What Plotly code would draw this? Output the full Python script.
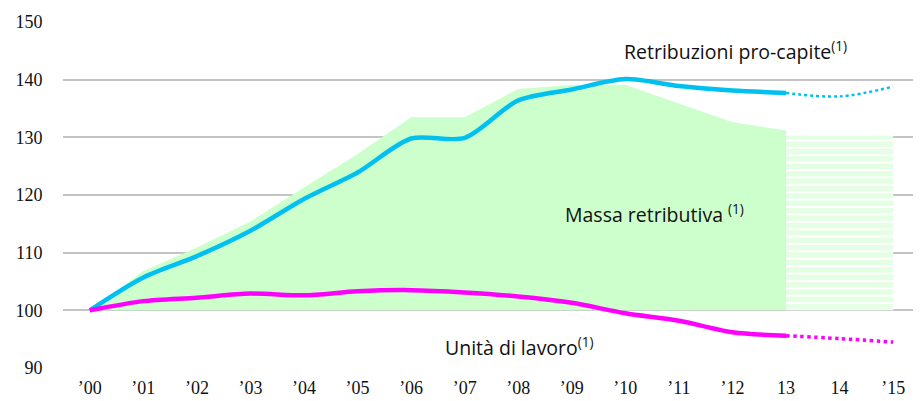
import plotly.graph_objects as go

years = ["’00", "’01", "’02", "’03", "’04", "’05", "’06", "’07",
         "’08", "’09", "’10", "’11", "’12", "13", "14", "’15"]

# index values (2000 = 100)
massa = [100, 106.8, 110.9, 115.4, 121.3, 127.1, 133.5, 133.5,
         138.4, 139.1, 139.1, 135.8, 132.6, 131.2]
massa_prev = [130.3, 130.3, 130.3]

retrib = [100, 105.7, 109.4, 113.8, 119.3, 123.9, 129.8, 129.9,
          136.4, 138.3, 140.1, 138.9, 138.1, 137.7]
retrib_prev = [137.7, 137.1, 138.8]

unita = [100, 101.6, 102.2, 102.9, 102.6, 103.3, 103.5, 103.1,
         102.4, 101.3, 99.5, 98.2, 96.2, 95.6]
unita_prev = [95.6, 95.1, 94.5]

BASE = 100
GREEN = "#CCFFCC"
BLUE = "#00C0F0"
MAGENTA = "#FF00FF"

x_hist = list(range(len(massa)))
x_prev = list(range(len(massa) - 1, len(years)))

fig = go.Figure()

# massa retributiva (area above the 100 base)
fig.add_trace(go.Scatter(x=x_hist, y=[BASE] * len(x_hist), mode="lines",
                         line=dict(width=0), hoverinfo="skip"))
fig.add_trace(go.Scatter(x=x_hist, y=massa, mode="lines", fill="tonexty",
                         fillcolor=GREEN, line=dict(width=0)))
fig.add_trace(go.Scatter(x=x_prev, y=[BASE] * len(x_prev), mode="lines",
                         line=dict(width=0), hoverinfo="skip"))
fig.add_trace(go.Scatter(x=x_prev, y=massa_prev, mode="lines", fill="tonexty",
                         fillcolor="white", line=dict(width=0),
                         fillpattern=dict(shape="-", fgcolor=GREEN, bgcolor="white",
                                          size=7.4, solidity=0.75)))

# retribuzioni pro-capite
fig.add_trace(go.Scatter(x=x_hist, y=retrib, mode="lines",
                         line=dict(color=BLUE, width=4.5, shape="spline", smoothing=0.8)))
fig.add_trace(go.Scatter(x=x_prev, y=retrib_prev, mode="lines",
                         line=dict(color=BLUE, width=2.5, dash="dot", shape="spline")))

# unita di lavoro
fig.add_trace(go.Scatter(x=x_hist, y=unita, mode="lines",
                         line=dict(color=MAGENTA, width=4.5, shape="spline", smoothing=0.8)))
fig.add_trace(go.Scatter(x=x_prev, y=unita_prev, mode="lines",
                         line=dict(color=MAGENTA, width=3.5, dash="dot", shape="spline")))

label_font = dict(family="Open Sans", size=19.5, color="#111111")
fig.add_annotation(x=12.05, y=145.1, text="Retribuzioni pro-capite<sup>(1)</sup>",
                   showarrow=False, font=label_font)
fig.add_annotation(x=10.55, y=116.8, text="Massa retributiva <sup>(1)</sup>",
                   showarrow=False, font=label_font)
fig.add_annotation(x=8.03, y=93.65, text="Unità di lavoro<sup>(1)</sup>",
                   showarrow=False, font=label_font)

# the page body has an 8px margin, so the figure is sized to fit around it
tick_font = dict(family="Liberation Serif", size=18, color="#111111")
fig.update_layout(
    width=913, height=393,
    margin=dict(l=55, r=0, t=14, b=33),
    paper_bgcolor="white", plot_bgcolor="white",
    showlegend=False,
    xaxis=dict(range=[-0.5, 15.52], tickmode="array",
               tickvals=list(range(len(years))), ticktext=years,
               showgrid=False, zeroline=False, showline=False,
               ticks="outside", ticklen=3, tickcolor="rgba(0,0,0,0)",
               tickfont=tick_font, automargin=False),
    yaxis=dict(range=[90, 150], dtick=10, showgrid=True,
               gridcolor="#C4C4C4", gridwidth=1.5, zeroline=False,
               ticks="outside", ticklen=16, tickcolor="rgba(0,0,0,0)",
               tickfont=tick_font, automargin=False),
)

fig.write_html("out.html")
